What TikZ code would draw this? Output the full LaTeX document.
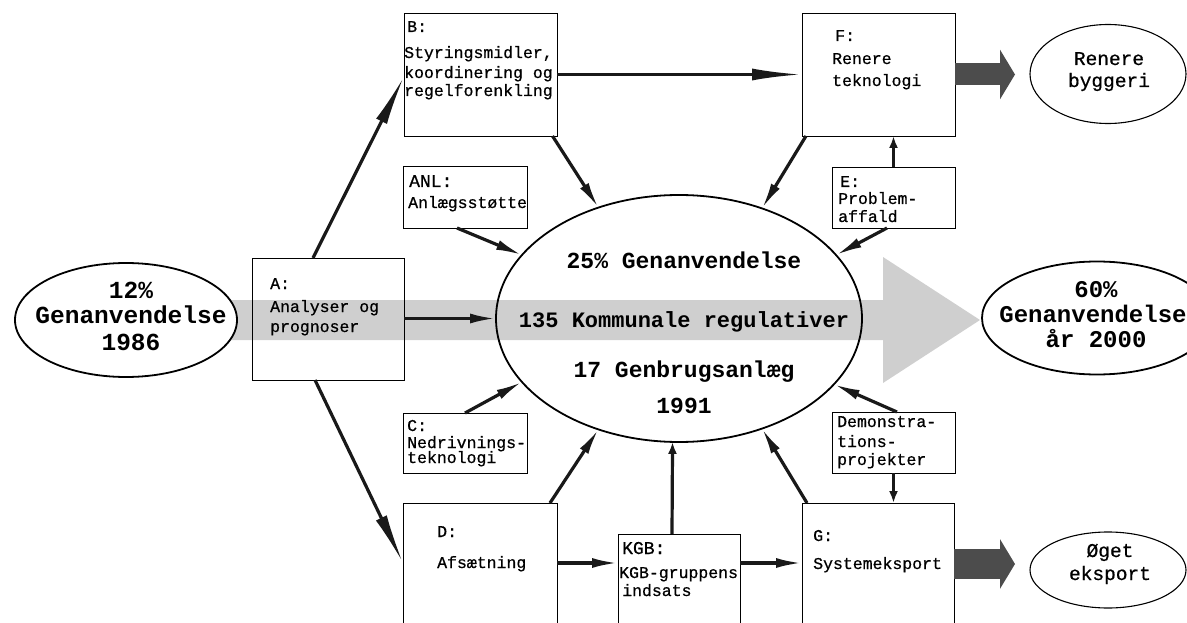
\documentclass[tikz,border=0pt]{standalone}
\usepackage{fontspec}
\newfontfamily\cour[FakeBold=0.7]{Liberation Mono}
\newfontfamily\courb{Liberation Mono Bold}
\usetikzlibrary{shapes.geometric,arrows.meta}
\begin{document}
\begin{tikzpicture}[x=1pt,y=-1pt,
  box/.style={draw, line width=0.8pt, inner sep=0pt, outer sep=0pt},
  ell/.style={ellipse, draw, line width=1.8pt, inner sep=0pt, outer sep=0pt},
  thinell/.style={ellipse, draw, line width=1.1pt, inner sep=0pt, outer sep=0pt},
  txt/.style={font=\cour\fontsize{16.5}{19}\selectfont, inner sep=0pt, anchor=base west},
  bigl/.style={font=\cour\fontsize{18}{20}\selectfont, inner sep=0pt, anchor=base west},
  ovt/.style={font=\cour\fontsize{19.5}{22}\selectfont, inner sep=0pt, anchor=base},
  bold/.style={font=\courb\fontsize{23}{26}\selectfont, inner sep=0pt, anchor=base},
  boldl/.style={font=\courb\fontsize{24.5}{27}\selectfont, inner sep=0pt, anchor=base},
  boldr/.style={font=\courb\fontsize{24}{27}\selectfont, inner sep=0pt, anchor=base},
  conn/.style={line width=3.2pt, draw=black!90, -{Latex[length=26pt,width=10pt]}},
  longconn/.style={line width=3.2pt, draw=black!90, -{Latex[length=50pt,width=12pt]}},
  shortconn/.style={line width=3.2pt, draw=black!90, -{Latex[length=12pt,width=9pt]}},
  fat/.style={draw=black!70, -{Triangle[length=15pt,width=49pt]}}
]
\useasboundingbox (0,0) rectangle (1187,623);
\clip (0,0) rectangle (1187,623);

% shaded band arrow
\fill[gray!38] (228,300) -- (883,300) -- (883,257) -- (980,320) -- (883,383) -- (883,340) -- (228,340) -- cycle;

% ellipses
\node[ell, fill=white, minimum width=222pt, minimum height=114pt] (L) at (126,320) {};
\node[ell, minimum width=366pt, minimum height=247pt] (cen) at (679,318.5) {};
\node[ell, fill=white, minimum width=230pt, minimum height=113pt] (R) at (1097,318) {};
\node[thinell, minimum width=156pt, minimum height=99pt] (RB) at (1108,74) {};
\node[thinell, minimum width=156pt, minimum height=76pt] (OE) at (1108,570) {};

% boxes
\node[box, minimum width=152pt, minimum height=122pt] (A) at (328,319) {};
\node[box, minimum width=153pt, minimum height=123pt] (B) at (480.5,74.5) {};
\node[box, minimum width=153pt, minimum height=123pt] (F) at (878.5,74.5) {};
\node[box, minimum width=123pt, minimum height=61pt] (E) at (893.5,197.5) {};
\node[box, minimum width=124pt, minimum height=62pt] (ANL) at (465,197) {};
\node[box, minimum width=124pt, minimum height=60pt] (C) at (465,443) {};
\node[box, minimum width=123pt, minimum height=61pt] (Dm) at (893.5,442.5) {};
\node[box, minimum width=154pt, minimum height=137pt] (D) at (480,571.5) {};
\node[box, minimum width=122pt, minimum height=106pt] (KGB) at (679,587) {};
\node[box, minimum width=152pt, minimum height=137pt] (G) at (878,571.5) {};

% connectors
\draw[longconn] ([xshift=-15pt]A.north) -- ([yshift=-2pt]B.west);
\draw[longconn] ([xshift=-13pt]A.south) -- ([yshift=8.5pt]D.west);
\draw[conn] (A.east |- cen.west) -- (cen.west);
\draw[longconn] (B.east) -- (F.west);
\draw[conn] ([xshift=-4.5pt]B.south east) -- (cen.126);
\draw[conn] ([xshift=4pt]F.south west) -- (cen.53);
\draw[conn] ([xshift=-8pt]ANL.south) -- (cen.158);
\draw[conn] ([xshift=-6.5pt]E.south) -- (cen.22);
\draw[shortconn] (E.north) -- (E.north |- F.south);
\draw[conn] (C.north) -- (cen.202);
\draw[conn] ([xshift=3.5pt]Dm.north) -- (cen.337);
\draw[conn] ([xshift=70pt]D.north) -- (cen.234);
\draw[shortconn] ([xshift=-7pt]KGB.north) -- (cen.267);
\draw[conn] ([xshift=5pt]G.north west) -- (cen.307);
\draw[shortconn] (Dm.south) -- (Dm.south |- G.north);
\draw[conn] ([yshift=8.5pt]D.east) -- ([yshift=24pt]KGB.west);
\draw[conn] ([yshift=24pt]KGB.east) -- ([yshift=8.5pt]G.west);

% fat arrows
\draw[fat, line width=22pt, shorten >=15pt] (F.east) -- (RB.west |- F.east);
\draw[fat, line width=30pt, shorten >=15pt] ([yshift=7.5pt]G.east) -- ([yshift=6pt]OE.west);

% ellipse texts
\node[boldl] (l1) at (131,298) {12\%};
\node[boldl] (l2) at (131,323) {Genanvendelse};
\node[boldl] (l3) at (131,350) {1986};
\node[boldr] (r1) at (1096,297) {60\%};
\node[boldr] (r2) at (1093,322) {Genanvendelse};
\node[boldr] (r3) at (1096,347) {år 2000};
\node[bold] (c1) at (684,268) {25\% Genanvendelse};
\node[bold, font=\courb\fontsize{22}{26}\selectfont] (c2) at (684,327) {135 Kommunale regulativer};
\node[bold] (c3) at (684,377) {17 Genbrugsanlæg};
\node[bold] (c4) at (684,413) {1991};
\node[ovt] (rb1) at (1109,65) {Renere};
\node[ovt] (rb2) at (1109,87) {byggeri};
\node[ovt] (oe1) at (1110,557) {Øget};
\node[ovt] (oe2) at (1110,580) {eksport};

% box texts
\node[txt] (tB0) at (407,32) {B:};
\node[txt] (tB1) at (404,58) {Styringsmidler,};
\node[txt] (tB2) at (404,78) {koordinering og};
\node[txt] (tB3) at (404,96) {regelforenkling};
\node[txt] (tA0) at (270,289) {A:};
\node[txt] (tA1) at (270,312) {Analyser og};
\node[txt] (tA2) at (270,332) {prognoser};
\node[txt] (tF0) at (835,41) {F:};
\node[txt] (tF1) at (832,64) {Renere};
\node[txt] (tF2) at (832,86) {teknologi};
\node[txt] (tE0) at (840,187) {E:};
\node[txt] (tE1) at (838,204) {Problem-};
\node[txt] (tE2) at (838,222) {affald};
\node[bigl] (tN0) at (409,187) {ANL:};
\node[txt] (tN1) at (408,208) {Anlægsstøtte};
\node[txt] (tC0) at (407,431) {C:};
\node[txt] (tC1) at (407,448) {Nedrivnings-};
\node[txt] (tC2) at (407,463) {teknologi};
\node[txt] (tD0) at (437,537) {D:};
\node[txt] (tD1) at (437,568) {Afsætning};
\node[bigl] (tK0) at (622,554) {KGB:};
\node[txt] (tK1) at (619,578) {KGB-gruppens};
\node[txt] (tK2) at (622,596) {indsats};
\node[txt] (tM0) at (837,427) {Demonstra-};
\node[txt] (tM1) at (837,447) {tions-};
\node[txt] (tM2) at (837,465) {projekter};
\node[txt] (tG0) at (813,541) {G:};
\node[txt] (tG1) at (813,569) {Systemeksport};
\end{tikzpicture}
\end{document}
